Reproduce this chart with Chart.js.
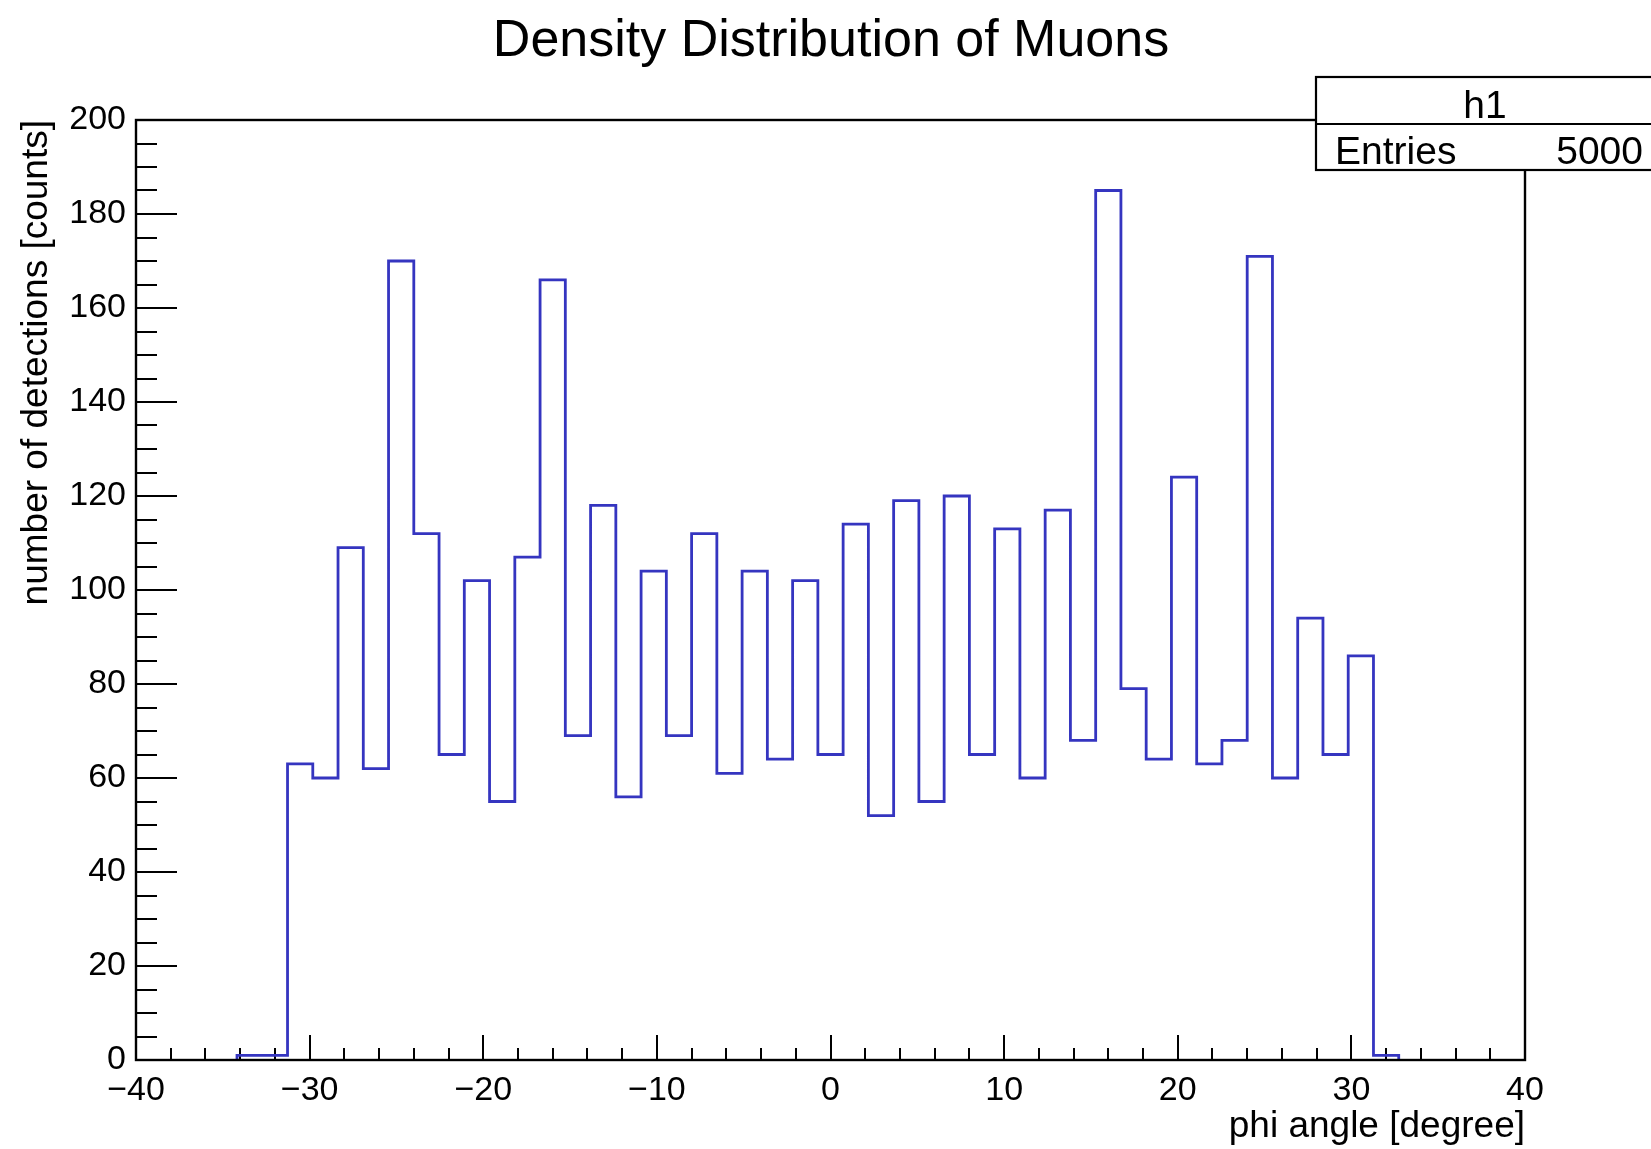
<!DOCTYPE html>
<html>
<head>
<meta charset="utf-8">
<script src="https://cdn.jsdelivr.net/npm/chart.js@4.4.1/dist/chart.umd.min.js"></script>
<style>
html, body { margin: 0; padding: 0; background: #fff; }
</style>
</head>
<body>
<canvas id="h1-canvas" width="1651" height="1149"></canvas>
<script>
// histogram h1: 55 bins over [-40, 40]
var xMin = -40;
var xMax = 40;
var counts = [
    0, 0, 0, 0, 1, 1,
    63, 60, 109, 62, 170, 112, 65, 102, 55, 107,
    166, 69, 118, 56, 104, 69, 112, 61, 104, 64,
    102, 65, 114, 52, 119, 55, 120, 65, 113, 60,
    117, 68, 185, 79, 64, 124, 63, 68, 171, 60,
    94, 65, 86,
    1, 0, 0, 0, 0, 0
];
var entries = 5000;
var xMajorStep = 10, xMinorStep = 2;
var yMajorStep = 20, yMinorStep = 5;
var titleText = "Density Distribution of Muons";

var FONT = "'Liberation Sans', Arial, Helvetica, sans-serif";
Chart.defaults.font.family = FONT;
Chart.defaults.color = "#000";

// step outline points (left edge of each bin), only over the filled range
var binWidth = (xMax - xMin) / counts.length;
var firstBin = counts.findIndex(function (c) { return c > 0; });
var lastBin = counts.length - 1;
while (lastBin > 0 && counts[lastBin] === 0) lastBin--;
var histPoints = [{ x: xMin + firstBin * binWidth, y: 0 }];
for (var i = firstBin; i <= lastBin; i++) {
    histPoints.push({ x: xMin + i * binWidth, y: counts[i] });
}
histPoints.push({ x: xMin + (lastBin + 1) * binWidth, y: 0 });

function minus(v) {
    return v < 0 ? "\u2212" + Math.abs(v) : String(v);
}

// ROOT style frame with inward ticks, title and stats box
var rootFrame = {
    id: "rootFrame",
    beforeDatasetsDraw: function (chart) {
        var ctx = chart.ctx, a = chart.chartArea;
        var xs = chart.scales.x, ys = chart.scales.y;
        ctx.save();
        ctx.strokeStyle = "#000";
        ctx.lineWidth = 2;
        ctx.beginPath();
        xs.ticks.forEach(function (t) {
            var px = Math.round(xs.getPixelForValue(t.value));
            var len = (t.value % xMajorStep === 0) ? 25 : 12;
            ctx.moveTo(px, a.bottom);
            ctx.lineTo(px, a.bottom - len);
        });
        ys.ticks.forEach(function (t) {
            var py = Math.round(ys.getPixelForValue(t.value));
            var len = (t.value % yMajorStep === 0) ? 41 : 21;
            ctx.moveTo(a.left, py);
            ctx.lineTo(a.left + len, py);
        });
        ctx.stroke();
        ctx.restore();
    },
    afterDatasetsDraw: function (chart) {
        var ctx = chart.ctx, a = chart.chartArea;
        ctx.save();
        ctx.strokeStyle = "#000";
        ctx.lineWidth = 2.4;
        ctx.strokeRect(a.left, a.top, a.right - a.left, a.bottom - a.top);
        ctx.restore();
    },
    afterDraw: function (chart) {
        var ctx = chart.ctx;
        ctx.save();
        // title
        ctx.fillStyle = "#000";
        ctx.font = "52px " + FONT;
        ctx.textAlign = "center";
        ctx.textBaseline = "middle";
        ctx.fillText(titleText, 831, 42);
        // stats box
        ctx.fillStyle = "#fff";
        ctx.fillRect(1316, 77, 400, 93);
        ctx.strokeStyle = "#000";
        ctx.lineWidth = 2.2;
        ctx.strokeRect(1316, 77, 400, 93);
        ctx.beginPath();
        ctx.moveTo(1316, 124);
        ctx.lineTo(1651, 124);
        ctx.stroke();
        ctx.fillStyle = "#000";
        ctx.font = "39px " + FONT;
        ctx.textBaseline = "alphabetic";
        ctx.textAlign = "center";
        ctx.fillText("h1", 1485, 118);
        ctx.textAlign = "left";
        ctx.fillText("Entries", 1335, 164);
        ctx.textAlign = "right";
        ctx.fillText(String(entries), 1643, 164);
        ctx.restore();
    }
};

var histChart = new Chart(document.getElementById("h1-canvas"), {
    type: "line",
    data: {
        datasets: [{
            label: "h1",
            data: histPoints,
            stepped: true,
            borderColor: "#3535c0",
            borderWidth: 2.8,
            pointRadius: 0,
            fill: false,
            tension: 0
        }]
    },
    options: {
        responsive: false,
        animation: false,
        layout: { padding: { left: 0, right: 126, top: 120, bottom: 0 } },
        plugins: {
            legend: { display: false },
            tooltip: { enabled: false },
            title: { display: false }
        },
        scales: {
            x: {
                type: "linear",
                min: xMin,
                max: xMax,
                grid: { display: false, drawTicks: false },
                border: { display: false },
                ticks: {
                    stepSize: xMinorStep,
                    autoSkip: false,
                    maxRotation: 0,
                    padding: 10,
                    font: { size: 34 },
                    callback: function (v) { return v % xMajorStep === 0 ? minus(v) : ""; }
                },
                title: {
                    display: true,
                    text: "phi angle [degree]",
                    align: "end",
                    font: { size: 37 },
                    padding: { top: 0, bottom: 0 }
                },
                afterFit: function (s) { s.height = 89; }
            },
            y: {
                min: 0,
                max: 200,
                grid: { display: false, drawTicks: false },
                border: { display: false },
                ticks: {
                    stepSize: yMinorStep,
                    autoSkip: false,
                    padding: 10,
                    font: { size: 34 },
                    callback: function (v) { return v % yMajorStep === 0 ? String(v) : ""; }
                },
                title: {
                    display: true,
                    text: "number of detections [counts]",
                    align: "end",
                    font: { size: 37 },
                    padding: { top: 15, bottom: 0 }
                },
                afterFit: function (s) { s.width = 136; }
            }
        }
    },
    plugins: [rootFrame]
});
</script>
</body>
</html>
